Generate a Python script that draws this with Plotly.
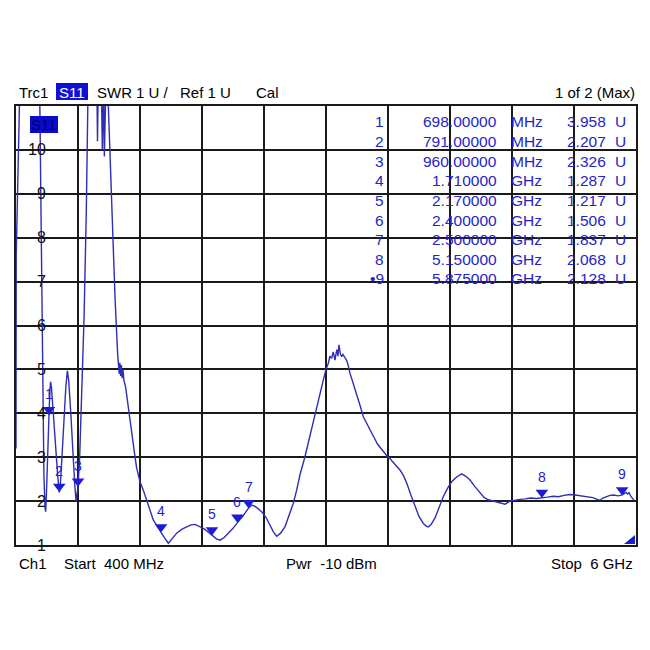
import plotly.graph_objects as go

# ---------------- data ----------------
freq_mhz = [400, 402, 436, 450, 520, 600, 612, 622, 632, 642, 652, 662, 668, 674, 684, 698, 706, 712, 720, 730,
            745, 760, 776, 791, 800, 815, 835, 850, 864, 876, 895, 915, 930, 942, 952, 960, 975, 995, 1015, 1035,
            1048, 1060, 1100, 1126, 1136, 1146, 1168, 1180, 1192, 1198, 1210, 1222, 1234,
            1265, 1295, 1318, 1325, 1332, 1338, 1345, 1352, 1358, 1366, 1375, 1390, 1420, 1445, 1470, 1490, 1520,
            1550, 1580, 1610, 1640, 1670, 1700, 1710, 1740, 1776, 1810, 1851, 1900, 1942, 1980, 2017, 2050, 2092,
            2130, 2170, 2210, 2243, 2280, 2318, 2360, 2400, 2450, 2500, 2529, 2560, 2619, 2660, 2694, 2725, 2755,
            2790, 2830, 2875, 2905, 2935, 2965, 3010, 3055, 3101, 3140, 3176, 3200, 3221, 3235, 3251, 3265, 3281,
            3290, 3299, 3308, 3317, 3330, 3342, 3353, 3363, 3375, 3387, 3400, 3417, 3445, 3477, 3505, 3537, 3560,
            3585, 3613, 3640, 3665, 3688, 3710, 3735, 3760, 3778, 3800, 3830, 3868, 3900, 3929, 3965, 4004, 4040,
            4079, 4105, 4124, 4150, 4184, 4220, 4259, 4300, 4335, 4380, 4425, 4460, 4501, 4545, 4591, 4630, 4666,
            4700, 4740, 4787, 4817, 4862, 4900, 4952, 5000, 5050, 5100, 5150, 5200, 5253, 5300, 5350, 5404, 5450,
            5500, 5555, 5610, 5650, 5675, 5700, 5735, 5765, 5800, 5840, 5875, 5895, 5911, 5925, 5937, 5955, 5970,
            5985]
swr = [3.2, 7.6, 11.6, 14, 14, 14, 11.8, 9.5, 6.5, 4.4, 2.6, 1.85, 1.76, 2.1, 3.1, 3.96, 4.5, 4.72, 4.6, 4.2,
       3.7, 3.2, 2.6, 2.2, 2.35, 3.0, 4.0, 4.6, 4.97, 4.75, 4.0, 3.0, 2.4, 2.0, 2.15, 2.33, 3.0, 4.5, 6.2, 8.6,
       11.0, 13, 14, 12.5, 10.2, 12.0, 11.8, 10.0, 11.6, 9.85, 11.2, 12.2, 11.0,
       8.5, 6.6, 5.35, 5.05, 4.9, 5.15, 4.85, 5.1, 4.8, 5.0, 4.75, 4.6, 4.0, 3.54, 3.1, 2.75, 2.44,
       2.25, 2.03, 1.8, 1.57, 1.45, 1.32, 1.29, 1.17, 1.04, 1.15, 1.27, 1.36, 1.42, 1.46, 1.47, 1.43, 1.38,
       1.31, 1.22, 1.14, 1.11, 1.17, 1.27, 1.38, 1.51, 1.66, 1.84, 1.91, 1.88, 1.76, 1.62, 1.46, 1.3, 1.2,
       1.27, 1.42, 1.76, 1.95, 2.25, 2.6, 3.01, 3.5, 4.0, 4.35, 4.76, 5.0, 5.14, 5.3, 5.25, 5.4, 5.21,
       5.35, 5.45, 5.3, 5.56, 5.35, 5.29, 5.34, 5.28, 5.25, 5.2, 5.1, 4.91, 4.7, 4.46, 4.2, 3.92, 3.8,
       3.68, 3.54, 3.42, 3.3, 3.22, 3.15, 3.08, 3.0, 2.97, 2.9, 2.82, 2.71, 2.58, 2.41, 2.15, 1.87, 1.65,
       1.49, 1.43, 1.41, 1.47, 1.61, 1.85, 2.1, 2.3, 2.44, 2.55, 2.62, 2.57, 2.48, 2.33, 2.18, 2.08, 2.03,
       2.01, 1.99, 1.96, 1.93, 2.0, 2.02, 2.04, 2.05, 2.07, 2.06, 2.07, 2.09, 2.11, 2.1, 2.13, 2.15, 2.14,
       2.12, 2.1, 2.08, 2.04, 2.02, 2.07, 2.11, 2.13, 2.14, 2.12, 2.14, 2.17, 2.2, 2.16, 2.19, 2.1, 2.04,
       2.01]

marker_ids = ["1", "2", "3", "4", "5", "6", "7", "8", "9"]
marker_freq_mhz = [698, 791, 960, 1710, 2170, 2400, 2500, 5150, 5875]
marker_freq_text = ["698.00000", "791.00000", "960.00000", "1.710000", "2.170000",
                    "2.400000", "2.500000", "5.150000", "5.875000"]
marker_unit = ["MHz", "MHz", "MHz", "GHz", "GHz", "GHz", "GHz", "GHz", "GHz"]
marker_swr = [3.958, 2.207, 2.326, 1.287, 1.217, 1.506, 1.837, 2.068, 2.128]
marker_swr_text = ["3.958", "2.207", "2.326", "1.287", "1.217", "1.506", "1.837", "2.068", "2.128"]

y_tick_labels = [1, 2, 3, 4, 5, 6, 7, 8, 9, 10]

# ---------------- layout helpers ----------------
OFF = 8  # page body margin
W, H = 650 - OFF, 650 - OFF
PL, PR, PT, PB = 16, 636, 106, 545  # plot area in screen pixels


def px(xp):
    return (xp - PL) / (PR - PL)


def py(yp):
    return (PB - yp) / (PB - PT)


FONT = "Liberation Sans, Arial, sans-serif"
TRACE_C = "#2e2eb6"
MARK_C = "#1c1cd4"
TABLE_C = "#2424c8"

fig = go.Figure()

fig.add_trace(go.Scatter(x=freq_mhz, y=swr, mode="lines",
                         line=dict(color=TRACE_C, width=1.4), hoverinfo="skip"))

fig.add_trace(go.Scatter(x=marker_freq_mhz, y=marker_swr, mode="markers",
                         marker=dict(symbol="triangle-up", angle=180, angleref="up", standoff=5.5,
                                     size=11, color=MARK_C, line=dict(width=0)),
                         hoverinfo="skip", cliponaxis=False))

annotations = []
shapes = []

# marker numbers above triangles
for mid, f, v in zip(marker_ids, marker_freq_mhz, marker_swr):
    annotations.append(dict(x=f, y=v, xref="x", yref="y", text=mid, showarrow=False,
                            yanchor="bottom", yshift=11, font=dict(family=FONT, size=14, color=MARK_C)))

# y tick labels inside plot with grid gaps
for t in y_tick_labels:
    s = str(t)
    wtxt = len(s) * 8.5 + 6
    shapes.append(dict(type="rect", xref="paper", yref="y", x0=px(50 - wtxt), x1=px(50),
                       y0=t - 0.2, y1=t + 0.2, fillcolor="white", line=dict(width=0), layer="between"))
    annotations.append(dict(x=px(48), y=t, xref="paper", yref="y", text=s, showarrow=False,
                            xanchor="right", yanchor="middle", font=dict(family=FONT, size=16, color="#111")))

# S11 box inside plot
shapes.append(dict(type="rect", xref="paper", yref="paper", x0=px(30), x1=px(58), y0=py(133), y1=py(116),
                   fillcolor="#0a0acc", line=dict(width=0), layer="above"))
annotations.append(dict(x=px(44), y=py(124.5), xref="paper", yref="paper", text="S11", showarrow=False,
                        xanchor="center", yanchor="middle", font=dict(family=FONT, size=15, color="#000070")))

# header
hy = py(92)
hdr = [("Trc1", 16.5, "left"), ("SWR", 95, "left"), ("1 U /", 134, "left"),
       ("Ref 1 U", 178, "left"), ("Cal", 254, "left"), ("1 of 2 (Max)", 637, "right")]
for txt, xp, anc in hdr:
    annotations.append(dict(x=px(xp), y=hy, xref="paper", yref="paper", text=txt, showarrow=False,
                            xanchor=anc, yanchor="middle", font=dict(family=FONT, size=15, color="black")))
shapes.append(dict(type="rect", xref="paper", yref="paper", x0=px(56), x1=px(88), y0=py(100), y1=py(83),
                   fillcolor="#1010d8", line=dict(width=0), layer="above"))
annotations.append(dict(x=px(72), y=hy, xref="paper", yref="paper", text="S11", showarrow=False,
                        xanchor="center", yanchor="middle", font=dict(family=FONT, size=15, color="white")))

# footer
fy = py(563)
ftr = [("Ch1", 17, "left"), ("Start  400 MHz", 62, "left"), ("Pwr  -10 dBm", 284, "left"),
       ("Stop  6 GHz", 635, "right")]
for txt, xp, anc in ftr:
    annotations.append(dict(x=px(xp), y=fy, xref="paper", yref="paper", text=txt, showarrow=False,
                            xanchor=anc, yanchor="middle", font=dict(family=FONT, size=15, color="black")))

# marker table
for i, (mid, ft, un, vt) in enumerate(zip(marker_ids, marker_freq_text, marker_unit, marker_swr_text)):
    ry = py(122 + i * 19.6)
    label = ("\u2022" + mid) if i == len(marker_ids) - 1 else mid
    cols = [(label, 386, "right"), (ft, 499, "right"), (un, 509, "left"), (vt, 608, "right"), ("U", 613, "left")]
    for txt, xp, anc in cols:
        annotations.append(dict(x=px(xp), y=ry, xref="paper", yref="paper", text=txt, showarrow=False,
                                xanchor=anc, yanchor="middle", font=dict(family=FONT, size=15.5, color=TABLE_C)))

# small corner triangle
shapes.append(dict(type="path", xref="paper", yref="paper",
                   path=f"M {px(624)} {py(544)} L {px(635)} {py(544)} L {px(635)} {py(535)} Z",
                   fillcolor=MARK_C, line=dict(width=0), layer="above"))

fig.update_layout(
    width=W, height=H, autosize=False,
    margin=dict(l=PL - OFF, r=W - (PR - OFF), t=PT - OFF, b=H - (PB - OFF), pad=0),
    paper_bgcolor="white", plot_bgcolor="white",
    showlegend=False,
    xaxis=dict(range=[400, 6000], tick0=400, dtick=560, showgrid=True, gridcolor="#1a1a1a", gridwidth=1.6,
               showticklabels=False, ticks="", zeroline=False, showline=True, linecolor="#1a1a1a",
               linewidth=1.8, mirror=True, fixedrange=True),
    yaxis=dict(range=[1, 11], tick0=1, dtick=1, showgrid=True, gridcolor="#1a1a1a", gridwidth=1.6,
               showticklabels=False, ticks="", zeroline=False, showline=True, linecolor="#1a1a1a",
               linewidth=1.8, mirror=True, fixedrange=True),
    annotations=annotations,
    shapes=shapes,
)

fig.write_html("out.html")
